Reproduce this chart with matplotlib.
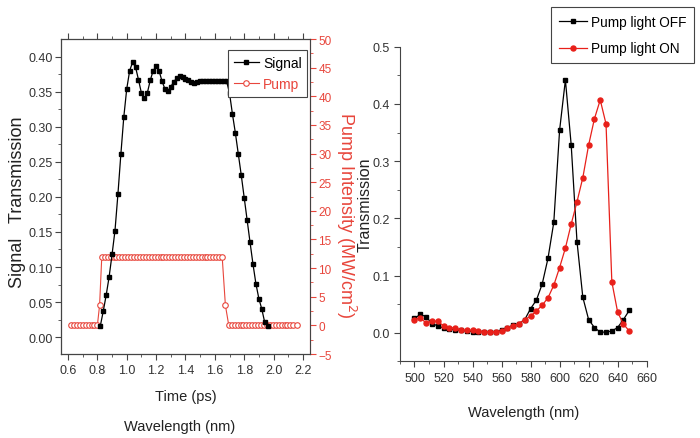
import matplotlib.pyplot as plt
import numpy as np

plt.rcParams['font.family'] = ['Liberation Sans', 'DejaVu Sans']

# --- left panel data (time in ps) ---
sig_t = [0.82, 0.84, 0.86, 0.88, 0.90, 0.92, 0.94, 0.96, 0.98, 1.00,
         1.02, 1.04, 1.06, 1.08, 1.10, 1.12, 1.14, 1.16, 1.18, 1.20,
         1.22, 1.24, 1.26, 1.28, 1.30, 1.32, 1.34, 1.36, 1.38, 1.40,
         1.42, 1.44, 1.46, 1.48, 1.50, 1.52, 1.54, 1.56, 1.58, 1.60,
         1.62, 1.64, 1.66, 1.68, 1.70, 1.72, 1.74, 1.76, 1.78, 1.80,
         1.82, 1.84, 1.86, 1.88, 1.90, 1.92, 1.94, 1.96]
sig_v = [0.016, 0.037, 0.060, 0.086, 0.118, 0.152, 0.204, 0.261, 0.314, 0.354,
         0.380, 0.392, 0.385, 0.367, 0.348, 0.341, 0.348, 0.366, 0.380, 0.386,
         0.380, 0.365, 0.354, 0.351, 0.357, 0.364, 0.369, 0.372, 0.371, 0.368,
         0.366, 0.364, 0.363, 0.364, 0.365, 0.365, 0.365, 0.365, 0.365, 0.365,
         0.365, 0.365, 0.365, 0.365, 0.348, 0.318, 0.291, 0.261, 0.231, 0.199,
         0.167, 0.135, 0.104, 0.076, 0.055, 0.040, 0.021, 0.016]

pump_t = [0.62, 0.64, 0.66, 0.68, 0.70, 0.72, 0.74, 0.76, 0.78, 0.80,
          0.815,
          0.83, 0.85, 0.87, 0.89, 0.91, 0.93, 0.95, 0.97, 0.99, 1.01,
          1.03, 1.05, 1.07, 1.09, 1.11, 1.13, 1.15, 1.17, 1.19, 1.21,
          1.23, 1.25, 1.27, 1.29, 1.31, 1.33, 1.35, 1.37, 1.39, 1.41,
          1.43, 1.45, 1.47, 1.49, 1.51, 1.53, 1.55, 1.57, 1.59, 1.61,
          1.63, 1.65,
          1.672,
          1.695, 1.715, 1.735, 1.755, 1.775, 1.795, 1.815, 1.835, 1.855, 1.875,
          1.895, 1.915, 1.935, 1.955, 1.975, 1.995, 2.015, 2.035, 2.055, 2.075,
          2.095, 2.115, 2.135, 2.16]
pump_v = ([0] * 10 + [3.5] + [12] * 42 + [3.5] + [0] * 24)

# --- right panel data (wavelength in nm) ---
wl = [500, 504, 508, 512, 516, 520, 524, 528, 532, 536, 540, 544, 548,
      552, 556, 560, 564, 568, 572, 576, 580, 584, 588, 592, 596, 600,
      604, 608, 612, 616, 620, 624, 628, 632, 636, 640, 644, 648]
t_off = [0.025, 0.032, 0.028, 0.016, 0.012, 0.008, 0.006, 0.005, 0.004, 0.003,
         0.002, 0.002, 0.002, 0.002, 0.002, 0.005, 0.009, 0.013, 0.016, 0.023,
         0.042, 0.057, 0.085, 0.130, 0.193, 0.354, 0.442, 0.328, 0.159, 0.062,
         0.023, 0.009, 0.001, 0.001, 0.003, 0.009, 0.023, 0.039]
t_on = [0.023, 0.026, 0.017, 0.020, 0.020, 0.012, 0.009, 0.008, 0.005, 0.004,
        0.004, 0.003, 0.002, 0.002, 0.002, 0.003, 0.009, 0.012, 0.016, 0.023,
        0.029, 0.038, 0.048, 0.061, 0.083, 0.114, 0.148, 0.190, 0.229, 0.271,
        0.328, 0.374, 0.407, 0.365, 0.089, 0.036, 0.015, 0.003]

RED = '#e8463c'
GREY = '#444444'

fig = plt.figure(figsize=(7, 4.39), dpi=100)

# ---------- left panel ----------
ax1 = fig.add_axes([0.0871, 0.1913, 0.3557, 0.7175])
l_sig, = ax1.plot(sig_t, sig_v, color='black', lw=0.9, marker='s', ms=3.3,
                  mfc='black', mec='black', label='Signal', zorder=3)
ax1.set_xlim(0.552, 2.248)
ax1.set_ylim(-0.024, 0.425)
ax1.set_xticks(np.arange(0.6, 2.21, 0.2))
ax1.set_xticks(np.arange(0.6, 2.25, 0.1), minor=True)
ax1.set_yticks(np.arange(0.0, 0.41, 0.05))
ax1.set_yticks(np.arange(0.0, 0.42, 0.025), minor=True)
ax1.xaxis.set_major_formatter(plt.FormatStrFormatter('%.1f'))
ax1.yaxis.set_major_formatter(plt.FormatStrFormatter('%.2f'))
ax1.tick_params(axis='both', labelsize=9, color=GREY, length=4, width=0.8,
                labelcolor='#333333')
ax1.tick_params(axis='y', pad=2)
ax1.tick_params(which='minor', length=2.5, color=GREY)
ax1.tick_params(axis='x', top=True, which='both')
ax1.set_ylabel('Signal   Transmission', fontsize=13, color='#222222',
               va='center', ha='center')
ax1.yaxis.set_label_coords(-0.175, 0.486)
ax1.set_xlabel('Time (ps)', fontsize=10.5, labelpad=9, color='#222222')
for s in ax1.spines.values():
    s.set_color(GREY)

ax2 = ax1.twinx()
l_pump, = ax2.plot(pump_t, pump_v, color=RED, lw=0.8, marker='o', ms=4,
                   mfc='white', mec=RED, mew=0.8, label='Pump', zorder=2)
ax2.set_ylim(-5, 50)
ax2.set_yticks(np.arange(-5, 51, 5))
ax2.set_yticks(np.arange(-5, 51, 2.5), minor=True)
ax2.tick_params(axis='y', colors=RED, labelsize=8.5, length=4, width=0.8, pad=2)
ax2.tick_params(axis='y', which='minor', length=2.5, color=RED)
ax2.spines['right'].set_color(RED)
ax2.set_ylabel('Pump Intensity (MW/cm$^2$)', color=RED, fontsize=13,
               rotation=270, va='center', ha='center')
ax2.yaxis.set_label_coords(1.145, 0.444)

leg1 = ax1.legend(handles=[l_sig, l_pump], loc='upper right',
                  bbox_to_anchor=(0.99, 0.965), fontsize=10, frameon=True,
                  fancybox=False, edgecolor=GREY, framealpha=1,
                  handlelength=1.8, handletextpad=0.3, borderpad=0.4,
                  labelspacing=0.55, borderaxespad=0)
leg1.get_frame().set_linewidth(0.8)
leg1.get_texts()[1].set_color(RED)
leg1.set_zorder(10)
ax1.set_zorder(ax2.get_zorder() + 1)
ax1.patch.set_visible(False)

fig.text(0.257, 0.027, 'Wavelength (nm)', ha='center', va='center',
         fontsize=10.5, color='#222222')

# ---------- right panel ----------
ax3 = fig.add_axes([0.5714, 0.1747, 0.3524, 0.7166])
l_off, = ax3.plot(wl, t_off, color='black', lw=0.9, marker='s', ms=3.3,
                  label='Pump light OFF')
l_on, = ax3.plot(wl, t_on, color='#e8201a', lw=0.9, marker='o', ms=3.6,
                 label='Pump light ON')
ax3.set_xlim(490, 660)
ax3.set_ylim(-0.05, 0.5)
ax3.set_xticks(np.arange(500, 661, 20))
ax3.set_xticks(np.arange(490, 661, 10), minor=True)
ax3.set_yticks(np.arange(0.0, 0.51, 0.1))
ax3.set_yticks(np.arange(-0.05, 0.51, 0.05), minor=True)
ax3.yaxis.set_major_formatter(plt.FormatStrFormatter('%.1f'))
ax3.tick_params(axis='both', labelsize=9, color=GREY, length=4, width=0.8,
                labelcolor='#333333')
ax3.tick_params(which='minor', length=2.5, color=GREY)
ax3.spines['top'].set_visible(False)
ax3.spines['right'].set_visible(False)
ax3.spines['left'].set_color(GREY)
ax3.spines['bottom'].set_color(GREY)
ax3.set_ylabel('Transmission', fontsize=11.5, color='#222222',
               va='center', ha='center')
ax3.yaxis.set_label_coords(-0.14, 0.5)
ax3.set_xlabel('Wavelength (nm)', fontsize=10.5, labelpad=15, color='#222222')

leg3 = fig.legend(handles=[l_off, l_on], loc='upper right',
                  bbox_to_anchor=(0.992, 0.982), fontsize=9.8, frameon=True,
                  fancybox=False, edgecolor=GREY, framealpha=1,
                  handlelength=2.0, handletextpad=0.3, borderpad=0.6,
                  labelspacing=0.9, borderaxespad=0)
leg3.get_frame().set_linewidth(0.8)

fig.savefig('out.png', dpi=100)
